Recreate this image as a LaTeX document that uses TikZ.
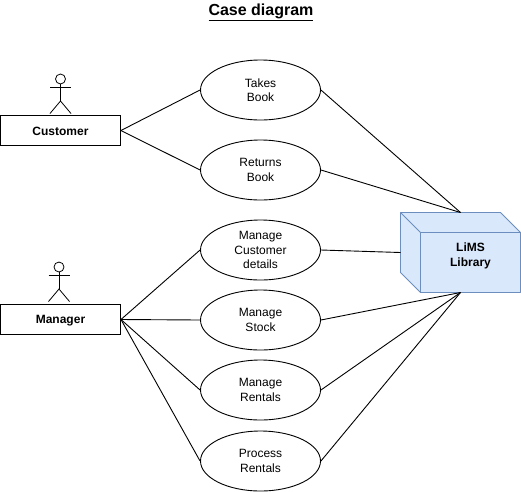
\documentclass[tikz,border=0pt]{standalone}
\usepackage{fontspec}
\setmainfont{Liberation Sans}
\usetikzlibrary{shapes.geometric}
\definecolor{cubefill}{HTML}{DAE8FC}
\definecolor{cubeline}{HTML}{6C8EBF}
\tikzset{
  usecase/.style={draw=black,fill=white,ellipse,minimum width=120pt,minimum height=60pt,inner sep=0pt,align=center,font=\fontsize{12}{14.5}\selectfont},
  actorbox/.style={draw=black,fill=white,rectangle,minimum width=120pt,minimum height=30pt,inner sep=0pt,font=\fontsize{12}{14}\selectfont\bfseries},
  link/.style={draw=black,line width=0.9pt},
  cubeedge/.style={draw=cubeline,fill=cubefill,line width=0.9pt,line join=round},
  stick/.style={draw=black,line width=0.8pt}
}
\newcommand{\stickman}[2]{%
  \draw[stick] (#1,#2+5) circle (5);
  \draw[stick] (#1,#2+10) -- (#1,#2+27);
  \draw[stick] (#1-10.5,#2+13) -- (#1+10.5,#2+13);
  \draw[stick] (#1-10.5,#2+39.5) -- (#1,#2+27) -- (#1+10.5,#2+39.5);
}
\newcommand{\lowered}[1]{\raisebox{-1pt}[\height][\depth]{#1}}
\begin{document}
\begin{tikzpicture}[x=1pt,y=-1pt,line width=0.9pt]
\useasboundingbox (0,0) rectangle (521,491);
% use cases
\node[usecase] (takes) at (260.5,90) {Takes\\Book};
\node[usecase] (returns) at (260.5,170) {Returns\\Book};
\node[usecase] (details) at (260.5,250) {Manage\\Customer\\details};
\node[usecase] (stock) at (260.5,320) {Manage\\Stock};
\node[usecase] (mrentals) at (260.5,390) {Manage\\Rentals};
\node[usecase] (prentals) at (260.5,461) {Process\\Rentals};
% actors
\node[actorbox] (customer) at (60.5,130.5) {\lowered{Customer}};
\node[actorbox] (manager) at (60.5,319.5) {\lowered{Manager}};
\stickman{60.5}{74}
\stickman{59}{262}
% cube
\draw[cubeedge] (400.5,212.5) -- (500.5,212.5) -- (520.5,232.5) -- (520.5,292.5) -- (420.5,292.5) -- (400.5,272.5) -- cycle;
\draw[cubeedge] (420.5,232.5) rectangle (520.5,292.5);
\draw[cubeedge] (400.5,212.5) -- (420.5,232.5);
\node[inner sep=0pt,align=center,font=\fontsize{12}{14.5}\selectfont\bfseries] (lims) at (470.5,256) {LiMS\\Library};
\coordinate (cubetop) at (460.5,212.5);
\coordinate (cubeleft) at (400.5,252.5);
\coordinate (cubebottom) at (460.5,292.5);
% connectors
\draw[link] (customer.east) -- (takes.west);
\draw[link] (customer.east) -- (returns.west);
\draw[link] (manager.east) -- (details.west);
\draw[link] (manager.east) -- (stock.west);
\draw[link] (manager.east) -- (mrentals.west);
\draw[link] (manager.east) -- (prentals.west);
\draw[link] (takes.east) -- (cubetop);
\draw[link] (returns.east) -- (cubetop);
\draw[link] (details.east) -- (cubeleft);
\draw[link] (stock.east) -- (cubebottom);
\draw[link] (mrentals.east) -- (cubebottom);
\draw[link] (prentals.east) -- (cubebottom);
% title
\node[inner sep=0pt,font=\fontsize{16}{18}\selectfont\bfseries] (title) at (261,12) {\underline{Case diagram}};
\end{tikzpicture}
\end{document}
